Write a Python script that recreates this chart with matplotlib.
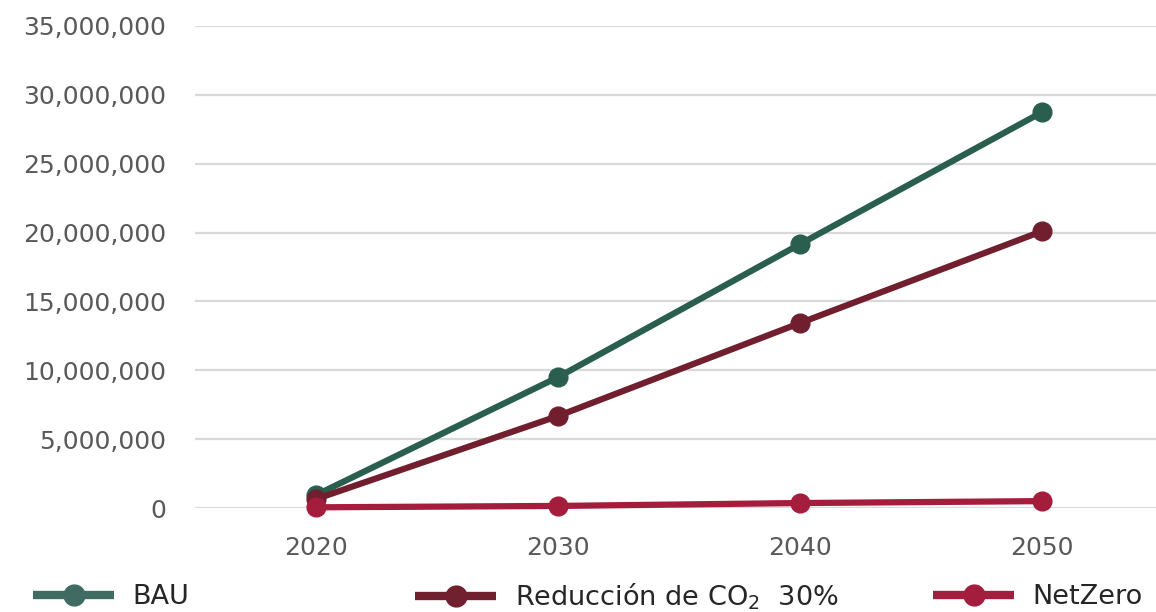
import matplotlib
matplotlib.use('Agg')
import matplotlib.pyplot as plt
from matplotlib.lines import Line2D
from matplotlib.ticker import FuncFormatter

# Data
years = ['2020', '2030', '2040', '2050']
bau = [940000, 9500000, 19160000, 28740000]
reduccion = [650000, 6680000, 13430000, 20100000]
netzero = [50000, 150000, 360000, 500000]

series_names = ['BAU', r'Reducción de CO$_\mathregular{2}$  30%', 'NetZero']
colors = ['#2a5e4f', '#711f2e', '#a51d3d']
legend_colors = ['#3f6b63', '#70202e', '#a51d3d']

plt.rcParams['font.family'] = ['DejaVu Sans']
plt.rcParams['mathtext.fontset'] = 'custom'
plt.rcParams['mathtext.rm'] = 'DejaVu Sans'

fig = plt.figure(figsize=(11.56, 6.12), dpi=100)
ax = fig.add_axes([195 / 1156, 104 / 612, 968 / 1156, 482 / 612])

x = range(len(years))
for vals, c in zip([bau, reduccion, netzero], colors):
    ax.plot(x, vals, color=c, lw=4.5, marker='o', markersize=13.5,
            solid_capstyle='round', clip_on=False, zorder=3)

ax.set_xlim(-0.5, 3.5)
ax.set_ylim(0, 35000000)
ax.set_yticks(range(0, 35000001, 5000000))
ax.yaxis.set_major_formatter(FuncFormatter(lambda v, p: f'{int(v):,}'))
ax.set_xticks(list(x))
ax.set_xticklabels(years)
ax.grid(axis='y', color='#d9d9d9', lw=1.6)
ax.set_axisbelow(True)
for s in ax.spines.values():
    s.set_visible(False)
ax.tick_params(axis='both', length=0, labelsize=18, colors='#595959')
ax.tick_params(axis='y', pad=21)
ax.tick_params(axis='x', pad=20)

# legend entries placed individually along the bottom
leg_x = [33 / 1156, 415 / 1156, 933 / 1156]
for c, name, lx in zip(legend_colors, series_names, leg_x):
    h = Line2D([], [], color=c, lw=6, marker='o', markersize=15, solid_capstyle='butt')
    lg = fig.legend([h], [name], loc='center left', bbox_to_anchor=(lx, 15 / 612),
                    frameon=False, fontsize=19.5, handlelength=3.0, handletextpad=0.68,
                    borderaxespad=0, borderpad=0)
    for t in lg.get_texts():
        t.set_color('#262626')

fig.savefig('out.png', dpi=100)
